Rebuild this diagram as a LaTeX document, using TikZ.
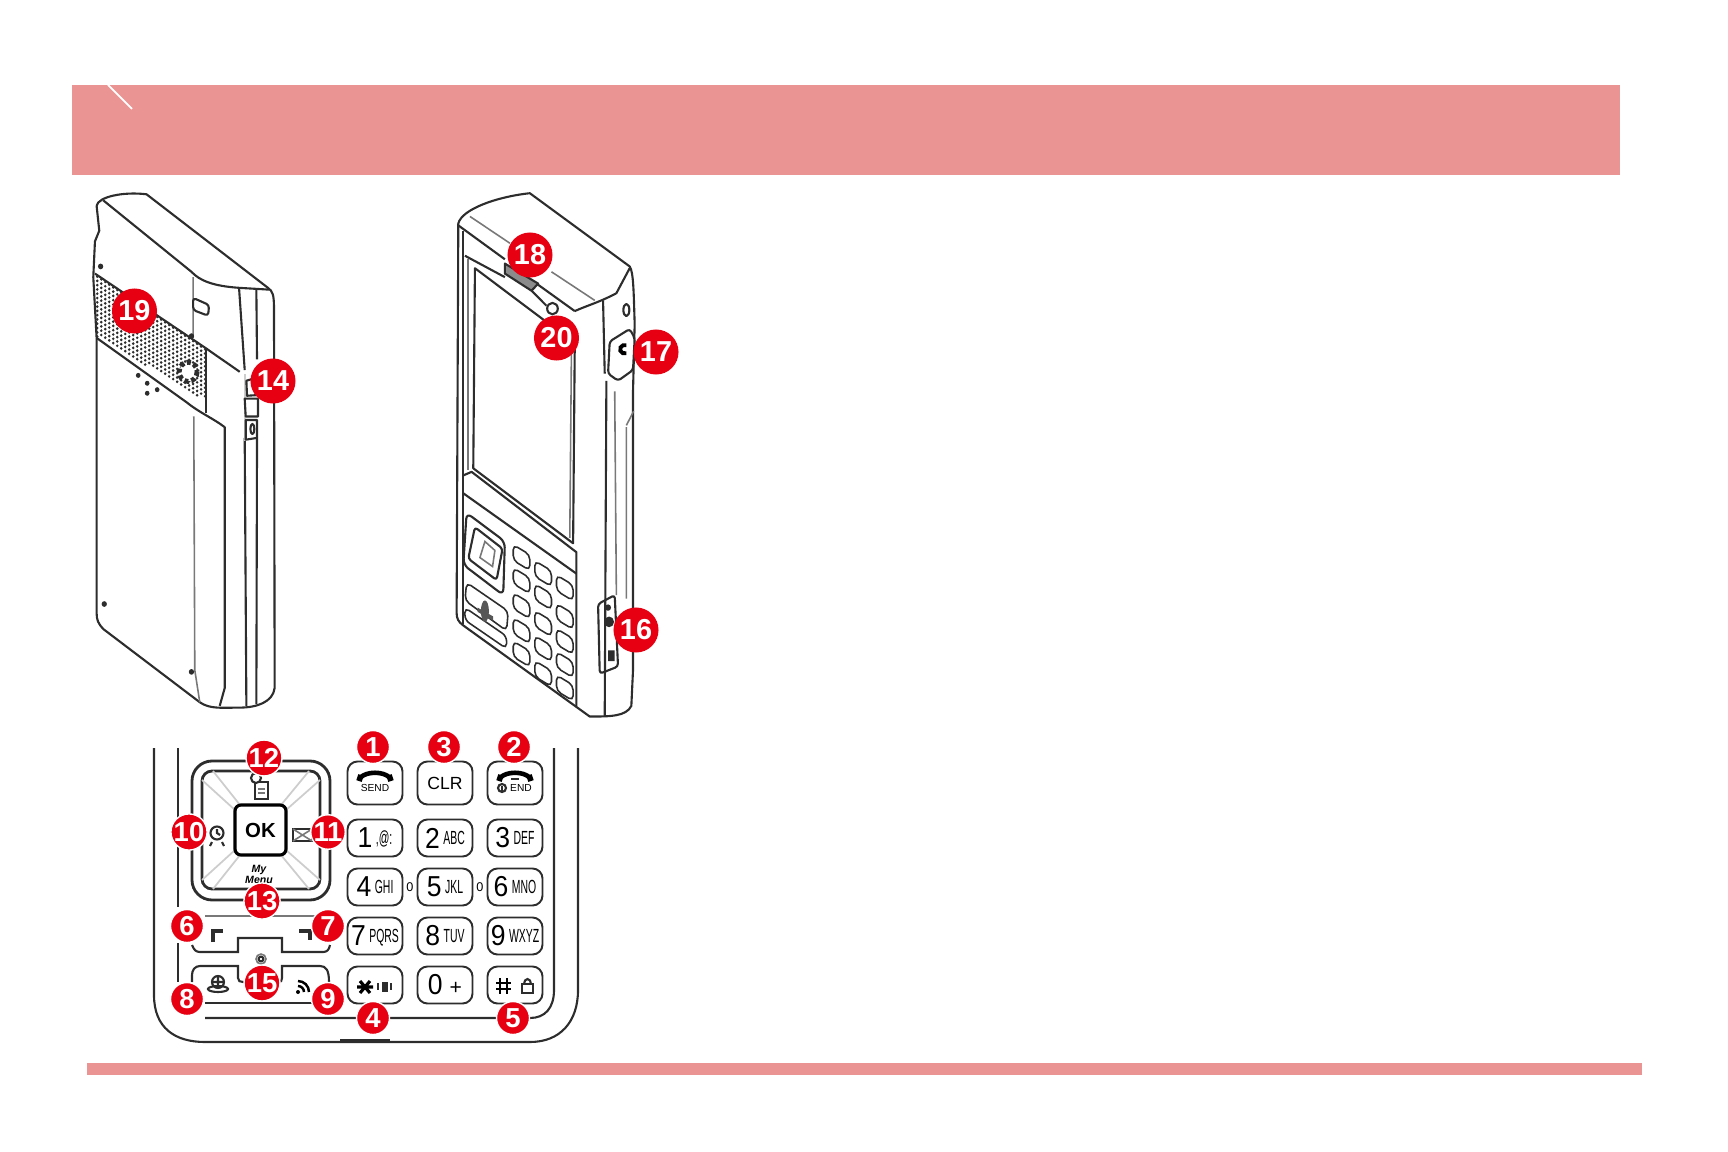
\documentclass[tikz,border=0pt]{standalone}
\usepackage{fontspec}
\usepackage{graphicx}
\setmainfont{Liberation Sans}
\usetikzlibrary{positioning, calc}
\definecolor{mypink}{RGB}{234,148,147}
\definecolor{myred}{RGB}{230,0,18}
\definecolor{myink}{RGB}{45,45,45}
\definecolor{mygray}{RGB}{120,120,120}
\definecolor{mylight}{RGB}{205,205,205}
\newcommand{\keytext}[2]{{\fontsize{8.2}{8.2}\selectfont\scalebox{.92}[1]{#1}}\hspace{1pt}\raisebox{.9pt}{\fontsize{5.4}{5.4}\selectfont\scalebox{.55}[1]{#2}}}
\tikzset{
  band/.style={fill=mypink, draw=none},
  body/.style={draw=myink, line width=0.6pt, line join=round},
  thin/.style={draw=mygray, line width=0.45pt},
  phonekey/.style={draw=myink, line width=0.45pt, rounded corners=0.05cm},
  badge/.style={circle, fill=myred, text=white, inner sep=0pt, minimum size=0.45cm,
    font=\fontsize{8.2}{8.2}\selectfont\bfseries},
  keybadge/.style={badge, draw=white, line width=0.4pt, minimum size=0.33cm,
    font=\fontsize{7.8}{7.8}\selectfont\bfseries},
  padkey/.style={rectangle, draw=myink, line width=0.55pt, rounded corners=0.1cm,
    minimum width=0.55cm, minimum height=0.37cm, inner sep=0pt},
  diag/.style={draw=mylight, line width=0.5pt},
  keyline/.style={draw=myink, line width=0.6pt},
  handset/.style={draw=black, line width=1.3pt, line cap=round},
  zoomed/.style={x=0.0033333cm, y=-0.0035714cm}
}

\begin{document}
\begin{tikzpicture}[x=0.01cm, y=-0.01cm]
  \useasboundingbox (0,0) rectangle (1728,1152);

  % Bands
  \fill[band] (72,85) rectangle (1620,175);
  \fill[band] (87,1063) rectangle (1642,1075);
  \draw[white, line width=0.5pt] (108,85) -- (132,109);

  % Back view
  \begin{scope}[shift={(60,170)}, zoomed]
    % grille
    \foreach \gx in {112,124,...,436}{
      \pgfmathsetmacro{\gtop}{294+(\gx-105)*0.627}
      \pgfmathsetmacro{\gbot}{466+(\gx-110)*0.545}
      \foreach \gy in {0,12,...,190}{
        \pgfmathparse{\gtop+\gy<\gbot ? 1 : 0}
        \ifnum\pgfmathresult=1
          \fill[myink] (\gx,\gtop+\gy) circle (4.2);
        \fi
      }
    }
    \draw[body] (110,100) .. controls (115,75) and (190,60) .. (260,68) -- (625,330)
      .. controls (640,340) and (642,350) .. (643,380) -- (645,1450)
      .. controls (640,1490) and (590,1505) .. (540,1505) .. controls (490,1505) and (450,1510) .. (420,1490)
      -- (130,1285) .. controls (115,1270) and (110,1260) .. (110,1240) -- (110,470)
      -- (100,300) -- (105,200) -- (118,170) -- (110,100);
    \draw[body] (130,85) -- (395,285) .. controls (420,310) and (460,325) .. (540,330) -- (630,335);
    \draw[body] (538,330) -- (555,560) (555,750) -- (560,1500);
    \draw[body] (590,335) -- (592,530) (592,750) -- (590,1495);
    \draw[thin] (400,300) -- (400,470) (402,690) -- (405,1400) -- (420,1490);
    \draw[body] (105,290) -- (440,500) .. controls (470,520) and (510,545) .. (540,565);
    \draw[body] (110,470) -- (380,650) .. controls (420,680) and (460,695) .. (495,720) -- (495,1450) -- (480,1500);
    \draw[body] (440,500) -- (440,680);
    % camera window and side buttons
    \draw[body, rounded corners=0.03cm] (400,358) -- (448,378) -- (445,408) -- (400,392) -- cycle;
    \fill[mylight] (552,570) rectangle (560,760);
    \draw[body] (560,590) -- (595,580) -- (595,630) -- (562,632) -- cycle;
    \draw[body] (555,640) -- (595,640) -- (595,690) -- (558,690) -- cycle;
    \draw[body] (558,700) -- (592,700) -- (592,750) -- (558,755) -- cycle;
    \draw[body] (578,725) ellipse (6 and 14);
    % speaker ring
    \fill[white] (385,565) circle (26);
    \draw[myink, line width=1.4pt, dash pattern=on 1.2pt off 0.8pt] (385,565) circle (27);
    % holes and screws
    \fill[myink] (235,575) circle (7) (262,597) circle (7) (292,615) circle (7) (262,625) circle (7);
    \fill[myink] (122,270) circle (8) (395,465) circle (8) (133,1215) circle (8) (395,1405) circle (8);
  \end{scope}

  % Front view
  \begin{scope}[shift={(430,170)}, zoomed]
    \draw[body] (85,150) .. controls (95,110) and (200,75) .. (300,65) -- (600,270)
      .. controls (612,285) and (612,350) .. (615,430) -- (610,620) -- (610,1400) -- (605,1500)
      .. controls (590,1530) and (540,1530) .. (480,1530) -- (100,1275)
      .. controls (85,1265) and (80,1255) .. (80,1240) -- cycle;
    \draw[body] (85,155) -- (225,250) (320,318) -- (435,395) (435,395) .. controls (470,380) and (510,370) .. (560,345) -- (600,275);
    \draw[thin] (120,130) -- (240,205) (365,285) -- (495,365);
    \draw[body] (100,170) -- (100,1270);
    \draw[thin] (115,250) -- (115,840);
    % earpiece and camera
    \draw[body, fill=myink!55] (225,262) -- (325,318) -- (305,338) -- (225,290) -- cycle;
    \draw[body] (105,240) -- (225,300) (305,338) -- (350,380);
    \draw[body] (368,388) circle (16);
    % screen
    \draw[body] (135,275) -- (435,485) -- (430,1045) -- (130,835) -- cycle;
    \draw[thin] (425,500) -- (420,1030);
    % lower bezel
    \draw[body] (100,855) -- (125,845) -- (440,1070) -- (440,1500);
    \draw[body] (100,905) -- (440,1130);
    % side edges
    \draw[body] (520,365) -- (525,570) (530,590) -- (525,1530);
    \draw[thin] (555,620) -- (560,1190) (590,720) -- (590,1200) (612,675) -- (590,715);
    % d-pad and soft keys
    \draw[body, rounded corners=0.06cm] (110,960) -- (225,1040) -- (220,1190) -- (100,1105) -- cycle;
    \draw[body, rounded corners=0.03cm] (135,1000) -- (218,1060) -- (200,1148) -- (115,1088) -- cycle;
    \draw[thin] (165,1040) -- (195,1065) -- (188,1110) -- (150,1085) -- cycle;
    \draw[phonekey] (110,1155) -- (235,1235) -- (230,1290) -- (105,1205) -- cycle;
    \draw[phonekey] (105,1225) -- (230,1305) -- (230,1340) -- (105,1260) -- cycle;
    \fill[myink!80] (165,1235) ellipse (12 and 30);
    \fill[myink!80] (143,1225) -- (190,1250) -- (190,1262) -- (143,1237) -- cycle;
    % keypad
    \foreach \kx/\ky in {275/1085,275/1150,275/1220,275/1290,275/1355,
                         340/1130,340/1195,340/1270,340/1340,340/1410,
                         405/1170,405/1250,405/1320,405/1385,405/1450}{
      \draw[phonekey] (\kx-25,\ky-36) -- (\kx+25,\ky-8) -- (\kx+25,\ky+36) -- (\kx-25,\ky+8) -- cycle;
    }
    % side port and side key
    \draw[body, rounded corners=0.03cm] (505,1215) -- (555,1190) -- (565,1390) -- (510,1410) -- cycle;
    \fill[myink] (535,1225) circle (9) (538,1265) circle (15) (535,1345) rectangle (555,1375);
    \draw[body, fill=white, rounded corners=0.03cm] (540,480) -- (600,445) -- (615,470) -- (610,560) -- (565,590) -- (535,570) -- cycle;
    \draw[black, line width=1.1pt] (590,513) arc (70:290:14 and 12);
    \draw[body] (590,392) ellipse (9 and 17);
  \end{scope}

  % Keypad outline
  \draw[body] (154,748) -- (154,995) .. controls (154,1028) and (175,1042) .. (205,1042)
    -- (530,1042) .. controls (560,1042) and (578,1022) .. (578,990) -- (578,748);
  \draw[keyline] (178,748) -- (178,907) (178,943) -- (178,982);
  \draw[keyline] (205,1018) -- (530,1018) .. controls (545,1018) and (554,1008) .. (554,990) -- (554,748);
  \draw[body, line width=1pt] (340,1041) -- (390,1041);

  % Direction pad
  \draw[keyline, line width=0.8pt, rounded corners=0.2cm] (192,761) rectangle (330,900);
  \draw[keyline, line width=0.8pt, rounded corners=0.1cm] (202,771) rectangle (320,889);
  \draw[diag] (202,780) -- (235,810) (213,771) -- (240,805);
  \draw[diag] (320,780) -- (286,810) (309,771) -- (281,805);
  \draw[diag] (202,880) -- (235,850) (213,889) -- (240,855);
  \draw[diag] (320,880) -- (286,850) (309,889) -- (281,855);
  \node[rectangle, draw=black, fill=white, line width=0.9pt, rounded corners=0.06cm, inner sep=0pt, minimum width=0.51cm,
    minimum height=0.5cm, font=\fontsize{5.8}{5.8}\selectfont\bfseries] (okkey) at (260.5,830) {OK};
  \node[font=\fontsize{3}{3.1}\selectfont\bfseries\itshape, align=center, inner sep=0pt] (mymenu) at (259,874) {My\\Menu};

  % Pad icons
  \draw[keyline] (255,782) -- (268,782) -- (268,799) -- (255,799) -- cycle;
  \draw[keyline, fill=white] (256,778) circle (5);
  \draw[thin] (258,789) -- (265,789) (258,793) -- (265,793);
  \draw[keyline] (217,833) circle (6.5) (217,829) -- (217,833) -- (220,835);
  \draw[keyline] (212,842) -- (210,846) (222,842) -- (224,846);
  \draw[keyline] (293,829) rectangle (312,841);
  \draw[thin] (293,829) -- (312,841) (293,841) -- (312,829);

  % Soft keys
  \draw[thin] (205,916) -- (315,916);
  \draw[keyline] (192,945) .. controls (194,950) and (196,952) .. (200,952) -- (238,952) -- (238,938) -- (282,938) -- (282,952) -- (323,952) .. controls (327,952) and (329,950) .. (330,945);
  \draw[keyline, line width=0.9pt] (213,942) -- (213,931) -- (223,931);
  \draw[keyline, line width=0.9pt] (299,931) -- (310,931) -- (310,940);
  \draw[keyline] (192,982) -- (192,975) .. controls (192,970) and (195,966) .. (200,966) -- (238,966) -- (238,978) .. controls (238,981) and (240,982) .. (243,982) -- (278,982) .. controls (281,982) and (282,981) .. (282,978) -- (282,966) -- (320,966) .. controls (326,966) and (329,970) .. (329,982);
  \draw[keyline] (205,1003) -- (312,1003);
  \draw[thin] (261,959) circle (5);
  \draw[keyline] (261,959) circle (2.4);

  % Soft key icons
  \draw[keyline] (218,982) circle (6) (218,976) -- (218,988) (212,982) -- (224,982);
  \draw[keyline] (218,989) ellipse (10 and 3);
  \fill[black] (298,992) circle (2);
  \draw[black, line width=0.7pt] (298,986) arc (-90:0:6) (298,981) arc (-90:0:11);

  % Dial keys
  \node[padkey, minimum height=0.43cm] (sendkey) at (375,783) {};
  \node[padkey, minimum height=0.43cm] (clrkey) at (445,783) {\fontsize{5}{5}\selectfont CLR};
  \node[padkey, minimum height=0.43cm] (endkey) at (515,783) {};
  \node[padkey] (key1) at (375,838) {\keytext{1}{,@:}};
  \node[padkey] (key2) at (445,838) {\keytext{2}{ABC}};
  \node[padkey] (key3) at (515,838) {\keytext{3}{DEF}};
  \node[padkey] (key4) at (375,887) {\keytext{4}{GHI}};
  \node[padkey] (key5) at (445,887) {\keytext{5}{JKL}};
  \node[padkey] (key6) at (515,887) {\keytext{6}{MNO}};
  \node[padkey] (key7) at (375,936) {\keytext{7}{PQRS}};
  \node[padkey] (key8) at (445,936) {\keytext{8}{TUV}};
  \node[padkey] (key9) at (515,936) {\keytext{9}{WXYZ}};
  \node[padkey] (keystar) at (375,985) {};
  \node[padkey] (key0) at (445,985) {{\fontsize{8.2}{8.2}\selectfont\scalebox{.92}[1]{0}}\hspace{2pt}{\fontsize{6}{6}\selectfont +}};
  \node[padkey] (keyhash) at (515,985) {};
  \node[font=\fontsize{3.6}{3.6}\selectfont, inner sep=0pt] (gap1) at (410,887) {0};
  \node[font=\fontsize{3.6}{3.6}\selectfont, inner sep=0pt] (gap2) at (480,887) {0};

  % Key icons
  \draw[handset] (360,778) .. controls (366,771) and (384,771) .. (390,778);
  \draw[handset, line width=1.6pt, line cap=butt] (359,781) -- (361,775) (391,781) -- (389,775);
  \node[font=\fontsize{2.9}{2.9}\selectfont, inner sep=0pt] (sendtxt) at (375,788) {SEND};
  \draw[handset] (500,778) .. controls (506,771) and (524,771) .. (530,778);
  \draw[handset, line width=1.6pt, line cap=butt] (499,781) -- (501,775) (531,781) -- (529,775);
  \draw[keyline] (511,779) -- (519,779);
  \draw[keyline] (502,788) circle (4);
  \draw[keyline] (502,785.5) -- (502,790.5);
  \node[font=\fontsize{2.9}{2.9}\selectfont, inner sep=0pt] (endtxt) at (521,788) {END};
  \draw[black, line width=0.9pt] (357,987) -- (373,987) (360,981) -- (370,993) (370,981) -- (360,993);
  \fill[myink] (382,982) rectangle (388,992);
  \draw[keyline] (378,983) -- (378,990) (391,983) -- (391,990);
  \draw[black, line width=0.8pt] (496,983) -- (511,983) (496,989) -- (511,989) (500,978) -- (500,994) (507,978) -- (507,994);
  \draw[keyline] (522,984) rectangle (533,993);
  \draw[keyline] (524,984) arc (180:360:3.5 and 5);

  % Badges
  \node[badge] (n19) at (134.5,311) {19};
  \node[badge] (n14) at (273,381) {14};
  \node[badge] (n18) at (530,255) {18};
  \node[badge] (n20) at (556.5,338) {20};
  \node[badge] (n17) at (656,352) {17};
  \node[badge] (n16) at (636,630) {16};
  \node[keybadge] (n1) at (373,747) {1};
  \node[keybadge] (n3) at (444,747) {3};
  \node[keybadge] (n2) at (514,747) {2};
  \node[keybadge] (n4) at (373,1018) {4};
  \node[keybadge] (n5) at (513,1018) {5};
  \node[keybadge] (n12) at (264,758) {12};
  \node[keybadge] (n10) at (189,832) {10};
  \node[keybadge] (n11) at (328,832) {11};
  \node[keybadge] (n13) at (262,901) {13};
  \node[keybadge] (n6) at (187,926) {6};
  \node[keybadge] (n7) at (328,926) {7};
  \node[keybadge] (n8) at (187,999) {8};
  \node[keybadge] (n9) at (328,999) {9};
  \node[keybadge] (n15) at (262,983) {15};
\end{tikzpicture}
\end{document}
